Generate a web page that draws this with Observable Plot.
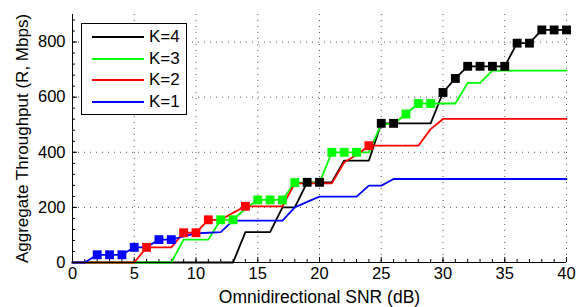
<!DOCTYPE html>
<html><head><meta charset="utf-8">
<script src="https://cdn.jsdelivr.net/npm/d3@7"></script>
<script src="https://cdn.jsdelivr.net/npm/@observablehq/plot@0.6"></script>
<style>
body{margin:0;background:#fff;}
#wrap{position:relative;width:577px;height:307px;font-family:"Liberation Sans",Arial,sans-serif;}
#legend{position:absolute;left:81px;top:23px;width:106px;height:92px;border:1px solid #000;background:#fff;box-sizing:border-box;}
.row{position:absolute;left:0;height:20px;display:flex;align-items:center;}
.sw{width:52px;height:0;border-top:2px solid;margin-left:10px;margin-right:5px;}
.lab{font-size:17px;color:#000;line-height:20px;}
</style></head><body><div id="wrap"></div>
<script>
const snr = [0,1,2,3,4,5,6,7,8,9,10,11,12,13,14,15,16,17,18,19,20,21,22,23,24,25,26,27,28,29,30,31,32,33,34,35,36,37,38,39,40];
const k1 = [0,0,28,28,28,55,55,83,83,95,106,108,110,152,152,152,152,152,200,220,239,239,239,239,279,279,303,303,303,303,303,303,303,303,303,303,303,303,303,303,303];
const k2 = [0,0,0,0,0,0,55,55,55,108,108,155,155,180,204,204,204,204,287,287,287,287,364,390,424,424,424,424,424,484,521,521,521,521,521,521,521,521,521,521,521];
const k3 = [0,0,0,0,0,0,0,0,0,83,83,83,155,155,195,227,227,227,290,290,290,400,400,400,400,502,502,539,577,577,577,577,652,652,696,696,696,696,696,696,696];
const k4 = [0,0,0,0,0,0,0,0,0,0,0,0,0,0,110,110,110,200,200,291,291,291,370,370,370,505,505,505,505,505,617,668,712,712,712,712,796,796,844,844,844];
const k1Markers = [2,3,4,5,7,8];
const k2Markers = [6,9,10,11,14,24];
const k3Markers = [12,13,15,16,17,18,21,22,23,27,28,29];
const k4Markers = [19,20,25,26,30,31,32,33,34,35,36,37,38,39,40];
const seriesNames = ["K=4","K=3","K=2","K=1"];
const seriesColors = ["#000000","#00ff00","#ff0000","#0000ff"];
const xTicks = [0,5,10,15,20,25,30,35,40];
const yTicks = [0,200,400,600,800];
const xMinor = [0,1,2,3,4,5,6,7,8,9,10,11,12,13,14,15,16,17,18,19,20,21,22,23,24,25,26,27,28,29,30,31,32,33,34,35,36,37,38,39,40];
const yMinor = [0,40,80,120,160,200,240,280,320,360,400,440,480,520,560,600,640,680,720,760,800,840,880];
const xTitle = "Omnidirectional SNR (dB)";
const yTitle = "Aggregate Throughput (R, Mbps)";

const seriesValues = [k4,k3,k2,k1];
const seriesMarkers = [k4Markers,k3Markers,k2Markers,k1Markers];

const lineMarks = [];
const dotMarks = [];
seriesNames.forEach((name,i)=>{
  const vals = seriesValues[i];
  const data = snr.map((x,j)=>({x, y: vals[j]}));
  lineMarks.push(Plot.line(data,{x:"x",y:"y",stroke:seriesColors[i],strokeWidth:1.8}));
  const md = seriesMarkers[i].map(x=>({x, y: vals[snr.indexOf(x)]}));
  dotMarks.push(Plot.dot(md,{x:"x",y:"y",symbol:"square",r:5,fill:seriesColors[i],stroke:"none"}));
});

const chart = Plot.plot({
  width:577, height:307,
  marginLeft:72, marginRight:11, marginTop:14, marginBottom:45,
  style:{fontFamily:"Liberation Sans, Arial, sans-serif", fontSize:"16.5px", background:"#fff", color:"#000", overflow:"visible"},
  x:{domain:[0,40]},
  y:{domain:[0,900]},
  marks:[
    Plot.gridX(xTicks,{stroke:"#555",strokeOpacity:1,strokeDasharray:"1,5",strokeWidth:1}),
    Plot.gridY(yTicks,{stroke:"#555",strokeOpacity:1,strokeDasharray:"1,5",strokeWidth:1}),
    Plot.ruleX(xMinor,{x:d=>d,y1:0,y2:0,insetTop:-3,stroke:"#000"}),
    Plot.ruleX(xTicks,{x:d=>d,y1:0,y2:0,insetTop:-5,stroke:"#000"}),
    Plot.ruleY(yMinor,{y:d=>d,x1:0,x2:0,insetRight:-3,stroke:"#000"}),
    Plot.ruleY(yTicks,{y:d=>d,x1:0,x2:0,insetRight:-5,stroke:"#000"}),
    ...lineMarks,
    ...dotMarks,
    Plot.ruleX([0],{stroke:"#000"}),
    Plot.ruleY([0],{stroke:"#000"}),
    Plot.axisX(xTicks,{tickSize:0,tickPadding:5,label:null,fontSize:16.5}),
    Plot.axisY(yTicks,{tickSize:0,tickPadding:7,label:null,fontSize:16.5}),
    Plot.text([xTitle],{frameAnchor:"bottom",dy:35,lineAnchor:"middle",textAnchor:"middle",fontSize:17.5,fill:"#000"}),
    Plot.text([yTitle],{frameAnchor:"left",dx:-50,rotate:-90,lineAnchor:"middle",textAnchor:"middle",fontSize:17,fill:"#000"})
  ]
});
const wrap = document.getElementById("wrap");
wrap.appendChild(chart);
const leg = document.createElement("div");
leg.id="legend";
seriesNames.forEach((name,i)=>{
  const r=document.createElement("div");
  r.className="row";
  r.style.top=(3+i*21.5)+"px";
  const sw=document.createElement("div");sw.className="sw";sw.style.borderTopColor=seriesColors[i];
  const lb=document.createElement("span");lb.className="lab";lb.textContent=name;
  r.appendChild(sw);r.appendChild(lb);leg.appendChild(r);
});
wrap.appendChild(leg);
</script></body></html>
